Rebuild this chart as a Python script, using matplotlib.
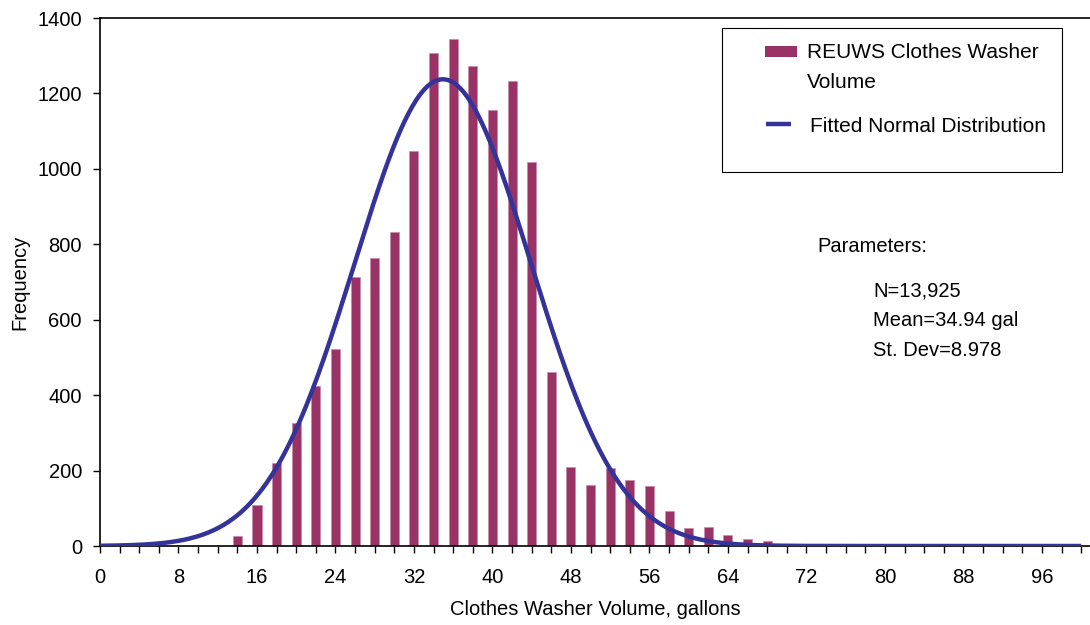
import matplotlib
matplotlib.use("Agg")
import matplotlib.pyplot as plt
from matplotlib.patches import Rectangle
from matplotlib.lines import Line2D
import numpy as np

plt.rcParams['font.family'] = ['Liberation Sans', 'DejaVu Sans']

# histogram of washer volumes (bin centres, gallons)
bin_centres = [14, 16, 18, 20, 22, 24, 26, 28, 30, 32, 34, 36, 38, 40,
               42, 44, 46, 48, 50, 52, 54, 56, 58, 60, 62, 64, 66, 68]
counts = [27, 110, 219, 325, 425, 522, 713, 763, 832, 1047, 1307, 1343, 1273, 1156,
          1233, 1018, 461, 210, 163, 208, 176, 159, 93, 48, 50, 29, 19, 13]

# fitted normal parameters shown on the chart
n_obs = 13925
mean_gal = 34.94
sd_gal = 8.978
bin_width = 2

x_ticks = list(range(0, 101, 2))
x_labels = [str(t) if t % 8 == 0 else '' for t in x_ticks]
y_ticks = [0, 200, 400, 600, 800, 1000, 1200, 1400]

BAR_C = '#993366'
LINE_C = '#333399'
FS = 14.5

W, H = 1090, 625
fig = plt.figure(figsize=(W / 100, H / 100), dpi=100)
ax = fig.add_axes([100 / W, 79 / H, 990 / W, 528 / H])

ax.bar(bin_centres, counts, width=0.92, color=BAR_C, edgecolor='#c98aa8',
       linewidth=0.5, zorder=2)

xs = np.linspace(0, 100, 500)
fit = n_obs * bin_width / (sd_gal * np.sqrt(2 * np.pi)) * np.exp(-0.5 * ((xs - mean_gal) / sd_gal) ** 2)
ax.plot(xs, fit, color=LINE_C, lw=3.2, zorder=3, solid_capstyle='butt')

ax.set_xlim(0, 100.9)
ax.set_ylim(0, 1400)
ax.set_xticks(x_ticks)
ax.set_xticklabels(x_labels)
ax.set_yticks(y_ticks)
ax.tick_params(axis='both', direction='out', length=5, width=1, labelsize=FS, colors='black')
ax.tick_params(axis='x', pad=11)
ax.tick_params(axis='y', pad=8)
ax.spines['right'].set_visible(False)
for s in ['left', 'bottom', 'top']:
    ax.spines[s].set_linewidth(1.2)

ax.set_xlabel('Clothes Washer Volume, gallons', fontsize=FS, labelpad=9)
ax.set_ylabel('Frequency', fontsize=FS, labelpad=6)

# legend box, drawn by hand to match the original layout
def fx(px):
    return px / W

def fy(py):
    return 1 - py / H

fig.patches.append(Rectangle((fx(722), fy(172)), fx(1062) - fx(722), fy(28) - fy(172),
                             transform=fig.transFigure, fill=False, edgecolor='black',
                             linewidth=0.8))
fig.patches.append(Rectangle((fx(765), fy(57)), fx(797) - fx(765), fy(46) - fy(57),
                             transform=fig.transFigure, facecolor=BAR_C, edgecolor='none'))
fig.lines.append(Line2D([fx(766), fx(791)], [fy(124), fy(124)], transform=fig.transFigure,
                        color=LINE_C, lw=3.2, solid_capstyle='butt'))
fig.text(fx(807), fy(52), 'REUWS Clothes Washer', fontsize=15, va='center')
fig.text(fx(807), fy(82), 'Volume', fontsize=15, va='center')
fig.text(fx(810), fy(126), 'Fitted Normal Distribution', fontsize=15, va='center')

fig.text(fx(817), fy(247), 'Parameters:', fontsize=FS, va='center')
fig.text(fx(873), fy(291), 'N=13,925', fontsize=FS, va='center')
fig.text(fx(873), fy(321), 'Mean=34.94 gal', fontsize=FS, va='center')
fig.text(fx(873), fy(351), 'St. Dev=8.978', fontsize=FS, va='center')

fig.savefig('out.png', dpi=100)
